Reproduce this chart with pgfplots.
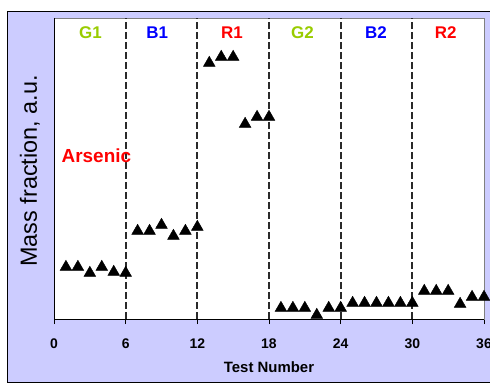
\documentclass[border=0pt]{standalone}
\usepackage{fontspec}
\setmainfont{Liberation Sans}
\usepackage{pgfplots}
\pgfplotsset{compat=1.18}
\definecolor{lav}{HTML}{CCCCFF}
\definecolor{gg}{HTML}{99CC00}
\definecolor{dg}{HTML}{2A2A2A}
\begin{document}
\begin{tikzpicture}
\useasboundingbox (0,0) rectangle (490bp,383bp);
\clip (0,0) rectangle (490bp,383bp);
\fill[white] (0,0) rectangle (490bp,383bp);
\filldraw[fill=lav,draw=black,line width=0.8bp] (7bp,1bp) rectangle (500bp,372bp);
\node[rotate=90,font=\fontsize{23.5}{27}\selectfont] at (30bp,212bp) {Mass fraction, a.u.};
\begin{axis}[
  at={(54bp,64bp)}, anchor=south west,
  scale only axis, width=430bp, height=301bp,
  xmin=0, xmax=36, ymin=0, ymax=301,
  clip=false,
  axis background/.style={fill=white},
  axis line style={draw=gray, line width=0.8bp},
  xtick={0,6,...,36}, ytick=\empty,
  tick pos=bottom, tick align=outside,
  major tick length=5bp,
  tick style={black, line width=0.8bp},
  x tick label style={font=\bfseries\fontsize{14}{16}\selectfont, anchor=center, yshift=-20bp},
  /pgf/number format/assume math mode=true,
  xlabel={Test Number},
  xlabel style={font=\bfseries\fontsize{15}{17}\selectfont, at={(axis description cs:0.5,0)}, anchor=center, yshift=-48bp},
]
\draw[black, line width=0.8bp] (rel axis cs:0,1) -- (rel axis cs:0,0) -- (rel axis cs:1,0);
\foreach \xx in {6,12,18,24,30} {
  \edef\tmp{\noexpand\draw[dg, line width=2.2bp, dash pattern=on 7bp off 3bp] (axis cs:\xx,0) -- (axis cs:\xx,301);}
  \tmp
}
\addplot[only marks, mark=triangle*, mark size=6.8pt, black] coordinates {
(1,52)(2,52)(3,46)(4,52)(5,47)(6,46)
(7,88)(8,88)(9,94)(10,83)(11,88)(12,92)
(13,256)(14,262)(15,262)(16,195)(17,202)(18,202)
(19,11)(20,11)(21,11)(22,4)(23,11)(24,11)
(25,16)(26,16)(27,16)(28,16)(29,16)(30,16)
(31,28)(32,28)(33,28)(34,15)(35,22)(36,22)
};
\node[font=\bfseries\fontsize{17}{19}\selectfont, text=gg] at (axis cs:3.05,286) {G1};
\node[font=\bfseries\fontsize{17}{19}\selectfont, text=blue] at (axis cs:8.65,286) {B1};
\node[font=\bfseries\fontsize{17}{19}\selectfont, text=red] at (axis cs:14.9,286) {R1};
\node[font=\bfseries\fontsize{17}{19}\selectfont, text=gg] at (axis cs:20.8,286) {G2};
\node[font=\bfseries\fontsize{17}{19}\selectfont, text=blue] at (axis cs:26.95,286) {B2};
\node[font=\bfseries\fontsize{17}{19}\selectfont, text=red] at (axis cs:32.8,286) {R2};
\node[font=\bfseries\fontsize{19}{21}\selectfont, text=red, inner sep=0pt] at (axis cs:3.55,163) {Arsenic};
\end{axis}
\end{tikzpicture}
\end{document}
